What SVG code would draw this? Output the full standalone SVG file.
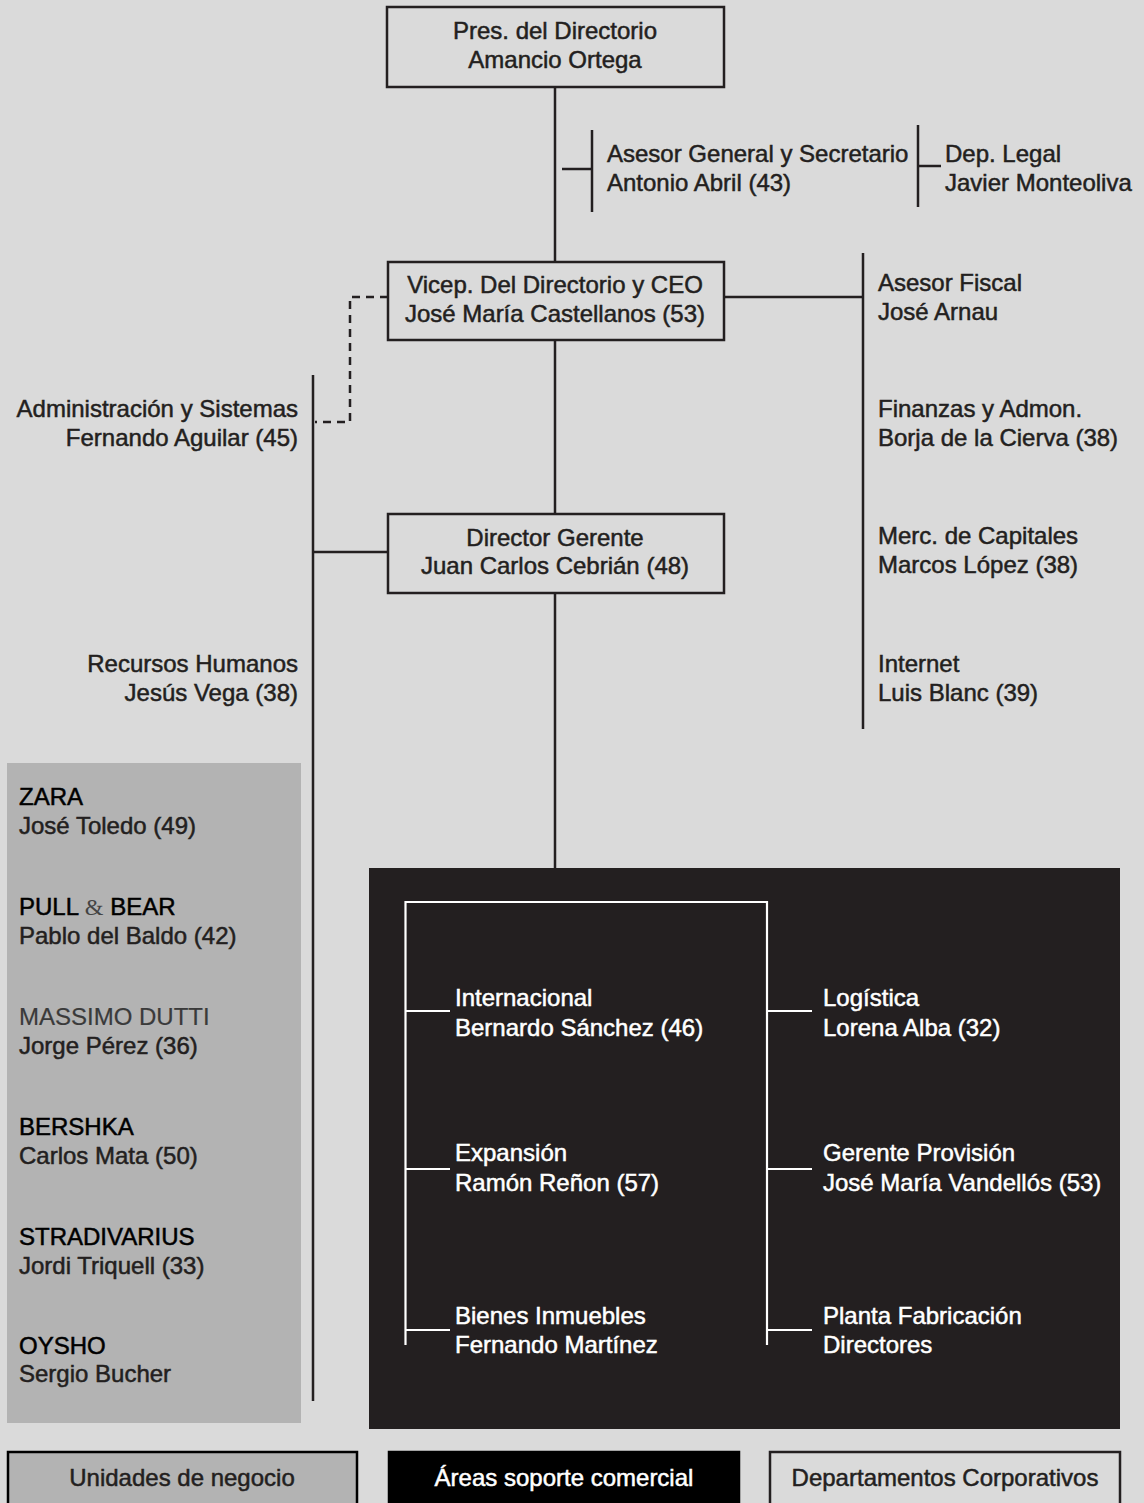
<svg xmlns="http://www.w3.org/2000/svg" width="1144" height="1503" viewBox="0 0 1144 1503">
<style>
text{font-family:"Liberation Sans",Arial,sans-serif;font-size:24px;fill:#231f20;stroke:#231f20;stroke-width:0.5}
.c{text-anchor:middle}
.r{text-anchor:end}
.w{fill:#fff;stroke:#fff}
.box{fill:#dadada;stroke:#231f20;stroke-width:2.5}
.ln{stroke:#231f20;stroke-width:2.5;fill:none}
.wl{stroke:#fff;stroke-width:2.2;fill:none}
.dash{stroke:#231f20;stroke-width:2.5;fill:none;stroke-dasharray:8 6}
.brand{fill:#000;stroke:#000}
.amp{font-family:"Liberation Serif",serif;fill:#444;stroke:none}
.md{fill:#3a3a3a;stroke:#3a3a3a;stroke-width:0.2}
</style>
<rect x="0" y="0" width="1144" height="1503" fill="#dadada"/>
<g id="panels">
<rect id="unidades-panel" x="7" y="763" width="294" height="660" fill="#b3b3b3"/>
<rect id="areas-panel" x="369" y="868" width="751" height="561" fill="#231f20"/>
</g>
<g id="connectors">
<line class="ln" x1="555" y1="87" x2="555" y2="262"/>
<line class="ln" x1="555" y1="340" x2="555" y2="514"/>
<line class="ln" x1="555" y1="593" x2="555" y2="868"/>
<line class="ln" x1="562" y1="169" x2="592" y2="169"/>
<line class="ln" x1="592" y1="130" x2="592" y2="212"/>
<line class="ln" x1="918" y1="125" x2="918" y2="207"/>
<line class="ln" x1="918" y1="166" x2="941" y2="166"/>
<line class="ln" x1="724" y1="297" x2="863" y2="297"/>
<line class="ln" x1="863" y1="253" x2="863" y2="729"/>
<path class="dash" d="M388 297 H350 V422 H315"/>
<line class="ln" x1="313" y1="375" x2="313" y2="1401"/>
<line class="ln" x1="313" y1="552" x2="388" y2="552"/>
<path class="wl" d="M405.5 1345 V902 H767 V1345"/>
<line class="wl" x1="405" y1="1011" x2="450" y2="1011"/>
<line class="wl" x1="405" y1="1169" x2="450" y2="1169"/>
<line class="wl" x1="405" y1="1330" x2="450" y2="1330"/>
<line class="wl" x1="767" y1="1011" x2="812" y2="1011"/>
<line class="wl" x1="767" y1="1169" x2="812" y2="1169"/>
<line class="wl" x1="767" y1="1330" x2="812" y2="1330"/>
</g>
<g id="presidente">
<rect class="box" x="387" y="7" width="337" height="80"/>
<text class="c" x="555" y="39">Pres. del Directorio</text>
<text class="c" x="555" y="68">Amancio Ortega</text>
</g>
<g id="asesor-general">
<text x="607" y="162">Asesor General y Secretario</text>
<text x="607" y="191">Antonio Abril (43)</text>
</g>
<g id="dep-legal">
<text x="945" y="162">Dep. Legal</text>
<text x="945" y="191">Javier Monteoliva</text>
</g>
<g id="vicepresidente">
<rect class="box" x="388" y="262" width="336" height="78"/>
<text class="c" x="555" y="293">Vicep. Del Directorio y CEO</text>
<text class="c" x="555" y="322">José María Castellanos (53)</text>
</g>
<g id="director-gerente">
<rect class="box" x="388" y="514" width="336" height="79"/>
<text class="c" x="555" y="546">Director Gerente</text>
<text class="c" x="555" y="574">Juan Carlos Cebrián (48)</text>
</g>
<g id="administracion">
<text class="r" x="298" y="417">Administración y Sistemas</text>
<text class="r" x="298" y="446">Fernando Aguilar (45)</text>
</g>
<g id="recursos-humanos">
<text class="r" x="298" y="672">Recursos Humanos</text>
<text class="r" x="298" y="701">Jesús Vega (38)</text>
</g>
<g id="asesor-fiscal">
<text x="878" y="291">Asesor Fiscal</text>
<text x="878" y="320">José Arnau</text>
</g>
<g id="finanzas">
<text x="878" y="417">Finanzas y Admon.</text>
<text x="878" y="446">Borja de la Cierva (38)</text>
</g>
<g id="capitales">
<text x="878" y="544">Merc. de Capitales</text>
<text x="878" y="573">Marcos López (38)</text>
</g>
<g id="internet">
<text x="878" y="672">Internet</text>
<text x="878" y="701">Luis Blanc (39)</text>
</g>
<g id="zara">
<text class="brand" x="19" y="805">ZARA</text>
<text x="19" y="834">José Toledo (49)</text>
</g>
<g id="pullbear">
<text x="19" y="915"><tspan class="brand">PULL </tspan><tspan class="amp">&amp;</tspan><tspan class="brand"> BEAR</tspan></text>
<text x="19" y="944">Pablo del Baldo (42)</text>
</g>
<g id="massimo">
<text class="md" x="19" y="1025">MASSIMO DUTTI</text>
<text x="19" y="1054">Jorge Pérez (36)</text>
</g>
<g id="bershka">
<text class="brand" x="19" y="1135">BERSHKA</text>
<text x="19" y="1164">Carlos Mata (50)</text>
</g>
<g id="stradivarius">
<text class="brand" x="19" y="1245">STRADIVARIUS</text>
<text x="19" y="1274">Jordi Triquell (33)</text>
</g>
<g id="oysho">
<text class="brand" x="19" y="1354">OYSHO</text>
<text x="19" y="1382">Sergio Bucher</text>
</g>
<g id="internacional">
<text class="w" x="455" y="1006">Internacional</text>
<text class="w" x="455" y="1036">Bernardo Sánchez (46)</text>
</g>
<g id="expansion">
<text class="w" x="455" y="1161">Expansión</text>
<text class="w" x="455" y="1191">Ramón Reñon (57)</text>
</g>
<g id="bienes">
<text class="w" x="455" y="1324">Bienes Inmuebles</text>
<text class="w" x="455" y="1353">Fernando Martínez</text>
</g>
<g id="logistica">
<text class="w" x="823" y="1006">Logística</text>
<text class="w" x="823" y="1036">Lorena Alba (32)</text>
</g>
<g id="provision">
<text class="w" x="823" y="1161">Gerente Provisión</text>
<text class="w" x="823" y="1191">José María Vandellós (53)</text>
</g>
<g id="planta">
<text class="w" x="823" y="1324">Planta Fabricación</text>
<text class="w" x="823" y="1353">Directores</text>
</g>
<g id="legend">
<g id="legend-unidades">
<rect x="8" y="1452" width="349" height="60" fill="#b3b3b3" stroke="#000" stroke-width="2.5"/>
<text class="c" x="182" y="1486">Unidades de negocio</text>
</g>
<g id="legend-areas">
<rect x="389" y="1452" width="350" height="60" fill="#000" stroke="#000" stroke-width="2.5"/>
<text class="c w" x="564" y="1486">Áreas soporte comercial</text>
</g>
<g id="legend-departamentos">
<rect x="770" y="1452" width="350" height="60" fill="#dadada" stroke="#231f20" stroke-width="2.5"/>
<text class="c" x="945" y="1486">Departamentos Corporativos</text>
</g>
</g>
</svg>
